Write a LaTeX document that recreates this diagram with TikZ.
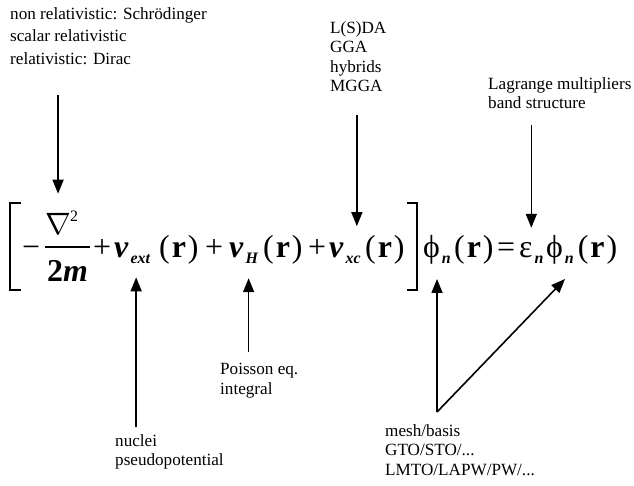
\RequirePackage{fix-cm}
\documentclass[tikz,border=0pt]{standalone}
\usepackage{fontspec}
\setmainfont{Liberation Serif}
\usetikzlibrary{arrows.meta,positioning}

\newcommand{\eqsize}{\fontsize{32}{32}\selectfont}
\newcommand{\bv}{\textbf{\textit{v}}}
\newcommand{\lowsub}[1]{\kern2bp\raisebox{-6bp}{\fontsize{16}{16}\selectfont\bfseries\itshape #1}}
\newcommand{\rarg}{(\kern2bp\textbf{r}\kern2bp)}
\newcommand{\phin}{ϕ\lowsub{n}}

\begin{document}
\begin{tikzpicture}[
    x=1bp, y=-1bp,
    lbl/.style={inner sep=0pt, align=left, font=\fontsize{17.2}{19.6}\selectfont},
    sym/.style={inner sep=0pt, anchor=base west, font=\eqsize},
    arr/.style={line width=1.6bp, -{Triangle[length=14bp,width=11bp]}},
    brk/.style={line width=1.3bp}
]
    \useasboundingbox (0,0) rectangle (634,486);

    % labels
    \node[lbl, anchor=base west] (nonrel) at (10,20) {non relativistic: Schrödinger};
    \node[lbl, anchor=base west] (scalrel) at (10,42) {scalar relativistic};
    \node[lbl, anchor=base west] (rel) at (10,65) {relativistic: Dirac};
    \node[lbl, anchor=north west] (xcfunc) at (330,21) {L(S)DA\\GGA\\hybrids\\MGGA};
    \node[lbl, anchor=north west] (lagr) at (488,77) {Lagrange multipliers\\band structure};
    \node[lbl, anchor=north west] (pois) at (220,363) {Poisson eq.\\integral};
    \node[lbl, anchor=north west] (nuc) at (115,434) {nuclei\\pseudopotential};
    \node[lbl, anchor=north west] (mesh) at (385,424) {mesh/basis\\GTO/STO/...\\LMTO/LAPW/PW/...};

    % equation
    \draw[brk] (21,203) -- (10,203) -- (10,290) -- (21,290);
    \node[sym] (minus) at (22,257) {−};
    \node[sym, font=\fontsize{31}{31}\selectfont] (nab) at (45,235) {$\nabla$};
    \node[sym, font=\fontsize{16}{16}\selectfont] (sq) at (70,222) {2};
    \draw[brk] (45,247) -- (90,247);
    \node[sym] (twom) at (47,281) {\textbf{2\textit{m}}};
    \node[sym] (plus1) at (93,257) {+};
    \node[sym] (vext) at (114,257) {\bv\lowsub{ext}};
    \node[sym] (r1) at (159,257) {\rarg};
    \node[sym] (plus2) at (205,257) {+};
    \node[sym] (vH) at (229,257) {\bv\lowsub{H}};
    \node[sym] (r2) at (263,257) {\rarg};
    \node[sym] (plus3) at (308,257) {+};
    \node[sym] (vxc) at (329,257) {\bv\lowsub{xc}};
    \node[sym] (r3) at (365,257) {\rarg};
    \draw[brk] (407,203) -- (417,203) -- (417,290) -- (407,290);
    \node[sym] (phil) at (423,257) {\phin};
    \node[sym] (r4) at (454,257) {\rarg};
    \node[sym] (eq) at (497,257) {=};
    \node[sym] (eps) at (519,257) {ε\lowsub{n}};
    \node[sym] (phir) at (546,257) {\phin\kern4bp\rarg};

    % connectors
    \coordinate (xctip) at ([xshift=-4bp]vxc.north east);
    \coordinate (exttip) at ([xshift=4bp]vext.south);
    \coordinate (Htip) at ([xshift=5bp]vH.south);
    \coordinate (mfork) at ([yshift=12bp]mesh.north -| phil.south);
    \coordinate (phitip) at ([xshift=19bp,yshift=-15bp]phir.south west);
    \draw[arr, shorten <=30bp, shorten >=20bp] (rel.south -| nab.north) -- (nab.north);
    \draw[arr, shorten <=23bp, shorten >=16bp] (xcfunc.south -| xctip) -- (xctip);
    \draw[arr, shorten <=16bp, shorten >=14bp] (lagr.south -| eps.north) -- (eps.north);
    \draw[arr, shorten <=7bp, shorten >=14bp] (nuc.north -| exttip) -- (exttip);
    \draw[arr, shorten <=11bp, shorten >=15bp] (pois.north -| Htip) -- (Htip);
    \draw[arr, shorten >=15bp] (mfork) -- (phil.south);
    \draw[arr] (mfork) -- (phitip);
\end{tikzpicture}
\end{document}
